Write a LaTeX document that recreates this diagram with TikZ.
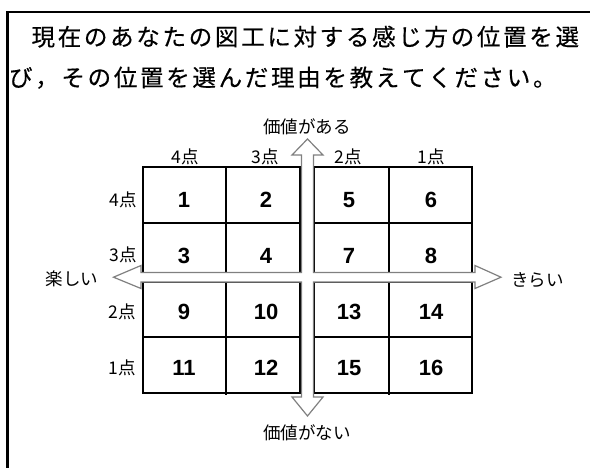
\documentclass[tikz,border=0pt]{standalone}
\usepackage{fontspec}
\setmainfont{Liberation Sans}
\newfontfamily\jp{Noto Sans CJK JP}
\newfontfamily\jpt[FakeBold=0.4]{Noto Sans CJK JP}
\newlength\pitch
\def\spaced#1{\spacedi#1\relax}
\def\spacedi#1{\ifx#1\relax\else\makebox[\pitch][c]{#1}\expandafter\spacedi\fi}
\tikzset{
  gridline/.style={draw=black, line width=1.1bp},
  num/.style={inner sep=0, font=\fontsize{22bp}{25bp}\selectfont\bfseries},
  lab/.style={inner sep=0, font=\jp\fontsize{17.5bp}{20bp}\selectfont},
  title/.style={inner sep=0, anchor=west, font=\jpt\fontsize{23.5bp}{27bp}\selectfont},
  bigarrow/.style={draw=black!50, line width=1.2bp, fill=white, line join=miter}
}
\begin{document}
\begin{tikzpicture}[x=1bp,y=-1bp]
\useasboundingbox (0,0) rectangle (590,468);
\fill[white] (0,0) rectangle (590,468);
% frame
\draw[line width=2.2bp] (7.5,470) -- (7.5,12) -- (592,12);
% title
\node[title] (t1) at (30,36.7) {\setlength\pitch{26.2bp}\spaced{現在のあなたの図工に対する感じ方の位置を選}};
\node[title] (t2) at (7.5,77.7) {\setlength\pitch{26.2bp}\spaced{び，その位置を選んだ理由を教えてください。}};
% grid quadrants
\draw[gridline] (143,167) rectangle (300,272.5);
\draw[gridline] (143,223) -- (300,223) (226,167) -- (226,272.5);
\draw[gridline] (314,167) rectangle (472,272.5);
\draw[gridline] (314,223) -- (472,223) (389,167) -- (389,272.5);
\draw[gridline] (143,282) rectangle (300,393);
\draw[gridline] (226,282) -- (226,395);
\draw[gridline, line width=1.8bp] (143,337) -- (300,337);
\draw[gridline] (314,282) rectangle (472,393);
\draw[gridline] (389,282) -- (389,395);
\draw[gridline, line width=1.8bp] (314,337) -- (472,337);
% cross arrow
\draw[bigarrow] (307.5,139) -- (323,155) -- (313.5,155) -- (313.5,272.5) -- (475,272.5) -- (475,265.5)
  -- (501,277.2) -- (475,288.5) -- (475,282) -- (313.5,282) -- (313.5,397) -- (323,397)
  -- (307.5,416) -- (292,397) -- (301.5,397) -- (301.5,282) -- (141,282) -- (141,288.5)
  -- (113.5,277.2) -- (141,265.5) -- (141,272.5) -- (301.5,272.5) -- (301.5,155) -- (292,155) -- cycle;
% numbers
\node[num] (n1) at (184,200) {1};
\node[num] (n2) at (266,200) {2};
\node[num] (n5) at (349,200) {5};
\node[num] (n6) at (431,200) {6};
\node[num] (n3) at (184,255.5) {3};
\node[num] (n4) at (266,255.5) {4};
\node[num] (n7) at (349,255.5) {7};
\node[num] (n8) at (431,255.5) {8};
\node[num] (n9) at (184,311.5) {9};
\node[num] (n10) at (266,311.5) {10};
\node[num] (n13) at (349,311.5) {13};
\node[num] (n14) at (431,311.5) {14};
\node[num] (n11) at (184,368) {11};
\node[num] (n12) at (266,368) {12};
\node[num] (n15) at (349,368) {15};
\node[num] (n16) at (431,368) {16};
% column headers
\node[lab] (h4) at (185,156.5) {4点};
\node[lab] (h3) at (265.5,156.5) {3点};
\node[lab] (h2) at (348,156.5) {2点};
\node[lab] (h1) at (431.5,156.5) {1点};
% row headers
\node[lab] (r4) at (123,200) {4点};
\node[lab] (r3) at (123,255) {3点};
\node[lab] (r2) at (122,311.5) {2点};
\node[lab] (r1) at (122,367.5) {1点};
% axis labels
\node[lab] (top) at (307,127) {価値がある};
\node[lab] (bot) at (307,433) {価値がない};
\node[lab] (left) at (72,278.5) {楽しい};
\node[lab] (right) at (537.5,280) {きらい};
\end{tikzpicture}
\end{document}
